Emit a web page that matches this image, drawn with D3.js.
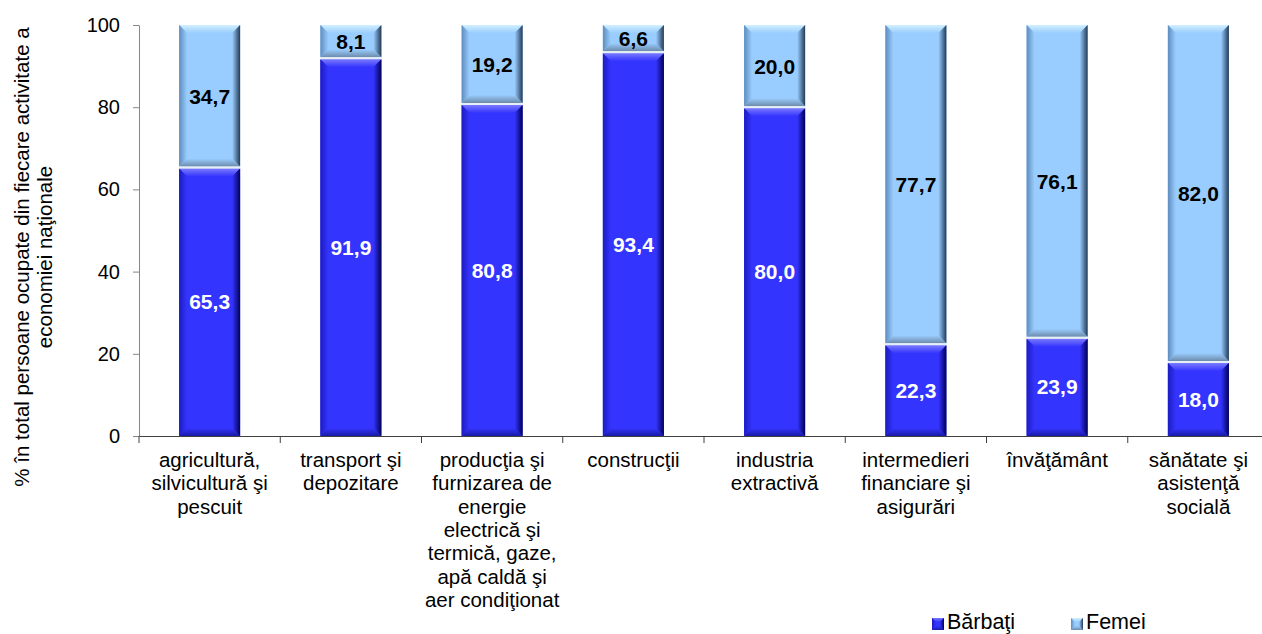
<!DOCTYPE html>
<html><head><meta charset="utf-8">
<script src="https://cdn.jsdelivr.net/npm/d3@7/dist/d3.min.js"></script>
<style>
html,body{margin:0;padding:0;background:#fff;}
svg{display:block;font-family:"Liberation Sans",Arial,sans-serif;}
</style></head>
<body>
<svg id="chart" width="1262" height="634"></svg>
<script>
// ---- data ----
const categoryLines = [
  ["agricultură,", "silvicultură şi", "pescuit"],
  ["transport şi", "depozitare"],
  ["producţia şi", "furnizarea de", "energie", "electrică şi", "termică, gaze,", "apă caldă şi", "aer condiţionat"],
  ["construcţii"],
  ["industria", "extractivă"],
  ["intermedieri", "financiare şi", "asigurări"],
  ["învăţământ"],
  ["sănătate şi", "asistenţă", "socială"]
];
const categories = categoryLines.map(l => l.join(" "));
const barbati = [65.3, 91.9, 80.8, 93.4, 80.0, 22.3, 23.9, 18.0];
const femei   = [34.7, 8.1, 19.2, 6.6, 20.0, 77.7, 76.1, 82.0];
const seriesNames = ["Bărbaţi", "Femei"];
const yTicks = [0, 20, 40, 60, 80, 100];
const yTitle = ["% în total persoane ocupate din fiecare activitate a", "economiei naţionale"];

// ---- layout ----
const svg = d3.select("#chart");
const L = 139, R = 1269, T = 25, B = 436;
const x = d3.scaleBand().domain(categories).range([L, R]).paddingInner(0.568).paddingOuter(0.284);
const y = d3.scaleLinear().domain([0, 100]).range([B, T]);
const fmt = v => v.toFixed(1).replace(".", ",");

const styles = {
  "Bărbaţi": {main: "#3434ff", top: "#7a7aff", bottom: "#1a1aa6", left: "#1c1cc0", right: "#000058", label: "#ffffff"},
  "Femei":   {main: "#9acdff", top: "#d2f0ff", bottom: "#6c8aaa", left: "#5e8cbe", right: "#223a56", label: "#000000"}
};

// gradients
const defs = svg.append("defs");
function grad(id, dir, c0, c1) {
  const g = defs.append("linearGradient").attr("id", id)
    .attr("x1", dir === "r" ? 1 : 0).attr("y1", dir === "b" ? 1 : 0)
    .attr("x2", dir === "l" ? 1 : 0).attr("y2", dir === "t" ? 1 : 0);
  g.append("stop").attr("offset", "0%").attr("stop-color", c0);
  g.append("stop").attr("offset", "100%").attr("stop-color", c1);
}
seriesNames.forEach((s, i) => {
  const st = styles[s];
  grad("t" + i, "t", st.top, st.main);
  grad("b" + i, "b", st.bottom, st.main);
  grad("l" + i, "l", st.left, st.main);
  grad("r" + i, "r", st.right, st.main);
});

function bevel(g, x0, y0, w, h, i, b) {
  const x1 = x0 + w, y1 = y0 + h;
  b = Math.min(b, h / 2, w / 2);
  const st = styles[seriesNames[i]];
  g.append("rect").attr("x", x0).attr("y", y0).attr("width", w).attr("height", h).attr("fill", st.main);
  const poly = (pts, f) => g.append("polygon").attr("points", pts.map(p => p.join(",")).join(" ")).attr("fill", f);
  poly([[x0, y0], [x1, y0], [x1 - b, y0 + b], [x0 + b, y0 + b]], `url(#t${i})`);
  poly([[x0, y1], [x1, y1], [x1 - b, y1 - b], [x0 + b, y1 - b]], `url(#b${i})`);
  poly([[x0, y0], [x0 + b, y0 + b], [x0 + b, y1 - b], [x0, y1]], `url(#l${i})`);
  poly([[x1, y0], [x1 - b, y0 + b], [x1 - b, y1 - b], [x1, y1]], `url(#r${i})`);
}

// bars
const stacked = d3.stack().keys([0, 1]).value((d, k) => d[k])(categories.map((c, j) => [barbati[j], femei[j]]));
const barsG = svg.append("g");
stacked.forEach((layer, i) => {
  layer.forEach((d, j) => {
    const c = categories[j];
    const yTop = y(d[1]), yBot = y(d[0]);
    const off = i === 0 ? 1 : 0;
    bevel(barsG, x(c), yTop + off, x.bandwidth(), yBot - yTop - 1, i, 8);
  });
});
// thin separators between segments
barsG.selectAll("line.sep").data(stacked[0]).join("line").attr("class", "sep")
  .attr("x1", (d, j) => x(categories[j])).attr("x2", (d, j) => x(categories[j]) + x.bandwidth())
  .attr("y1", d => y(d[1])).attr("y2", d => y(d[1]))
  .attr("stroke", "#e6eef6").attr("stroke-width", 2);

// value labels
stacked.forEach((layer, i) => {
  const vals = i === 0 ? barbati : femei;
  layer.forEach((d, j) => {
    svg.append("text")
      .attr("x", x(categories[j]) + x.bandwidth() / 2)
      .attr("y", (y(d[0]) + y(d[1])) / 2)
      .attr("dy", "0.36em")
      .attr("text-anchor", "middle")
      .attr("font-size", 21).attr("font-weight", "bold")
      .attr("fill", styles[seriesNames[i]].label)
      .text(fmt(vals[j]));
  });
});

// y axis
const yAxis = svg.append("g").attr("transform", `translate(${L},0)`)
  .call(d3.axisLeft(y).tickValues(yTicks).tickSize(6).tickSizeOuter(0).tickPadding(13));
yAxis.select(".domain").attr("stroke", "#868686");
yAxis.selectAll(".tick line").attr("stroke", "#868686");
yAxis.selectAll(".tick text").attr("font-size", 20).attr("fill", "#000").attr("font-family", "Liberation Sans, Arial, sans-serif");

// x axis
const xAxis = svg.append("g").attr("transform", `translate(0,${B})`)
  .call(d3.axisBottom(x).tickSize(0).tickSizeOuter(0).tickFormat(""));
xAxis.select(".domain").attr("stroke", "#404040");
const bounds = categories.map(c => x(c) - x.step() * x.paddingInner() / 2).concat([R]);
svg.append("g").selectAll("line").data(bounds).join("line")
  .attr("x1", d => d).attr("x2", d => d).attr("y1", B).attr("y2", B + 7)
  .attr("stroke", "#404040");

// category labels
categoryLines.forEach((lines, j) => {
  const t = svg.append("text").attr("text-anchor", "middle").attr("font-size", 20.5).attr("fill", "#000");
  lines.forEach((ln, k) => {
    t.append("tspan").attr("x", x(categories[j]) + x.bandwidth() / 2).attr("y", 467 + k * 23.3).text(ln);
  });
});

// y title
const tt = svg.append("text").attr("transform", "translate(0,257) rotate(-90)")
  .attr("text-anchor", "middle").attr("font-size", 20.5).attr("fill", "#000");
yTitle.forEach((ln, k) => tt.append("tspan").attr("x", 0).attr("y", 29 + k * 23.3).text(ln));

// legend
const legX = [932, 1071];
seriesNames.forEach((s, i) => {
  const g = svg.append("g");
  bevel(g, legX[i], 618, 12, 12, i, 4);
  g.append("text").attr("x", legX[i] + 15).attr("y", 629).attr("font-size", 21.5).attr("fill", "#000").text(s);
});
</script>
</body></html>
